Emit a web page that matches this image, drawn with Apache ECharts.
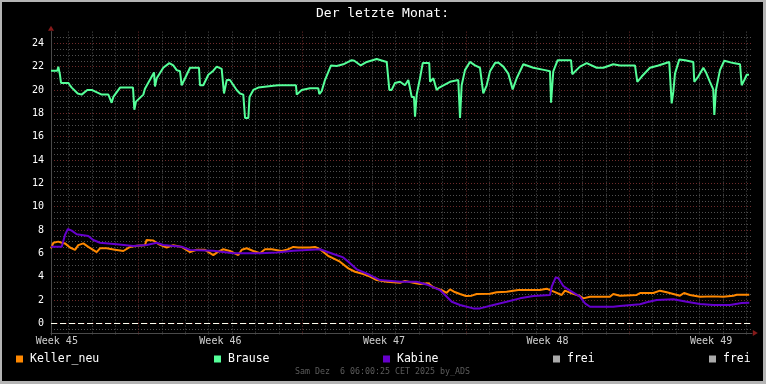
<!DOCTYPE html>
<html><head><meta charset="utf-8">
<script src="https://cdn.jsdelivr.net/npm/echarts@6/dist/echarts.min.js"></script>
<style>
html,body{margin:0;padding:0;background:#b4b4b4;width:766px;height:384px;overflow:hidden;}
#c{position:absolute;left:2px;top:2px;width:761px;height:379px;background:#000;}
</style></head><body><div id="c"></div>
<script>
const titleText = 'Der letzte Monat:';
const footerText = 'Sam Dez  6 06:00:25 CET 2025 by_ADS';
const startTime = new Date(2025, 10, 6, 6, 0, 0).getTime();
const spanHours = 720;
const yMin = -1, yMax = 25;
const yTicks = [0, 2, 4, 6, 8, 10, 12, 14, 16, 18, 20, 22, 24];
const weekLabels = ['Week 45', 'Week 46', 'Week 47', 'Week 48', 'Week 49'];
const weekLabelHours = [6, 174, 342, 510, 678];
const zeroRule = 0;

const kellerHours = [0,2.4,7.5,11,14.4,19.5,24.7,28,33.2,38.3,46.9,50.3,57.2,65.7,74.3,81.2,88,96.5,98.2,105.1,110.2,118.8,125.6,134.2,142.8,149.6,158.2,166.7,171.8,177,183.8,192.4,195.9,201,207.8,214.7,219.8,226.7,237,242.1,248.9,254,266,271.2,276.3,284.8,290,296.8,305.4,312.2,320.8,327.6,334.5,344.8,358.5,363.6,372.1,379,387.5,392.7,401.3,406.4,409.8,413.9,420.1,426.2,432.1,437.2,450.9,457.8,468,480,502.2,509.1,512.5,517.7,524.5,527.9,534.8,543.3,546.7,553.6,574.1,574.9,577.5,584.4,601.6,605,618.6,625.5,632.4,646,650.2,656.3,666.6,680.2,690.5,700.8,704.3,717.2];
const kellerValues = [6.43,6.9,7.0,6.9,6.85,6.5,6.3,6.7,6.85,6.55,6.1,6.43,6.43,6.3,6.2,6.55,6.65,6.7,7.15,7.1,6.8,6.5,6.7,6.55,6.1,6.3,6.3,5.85,6.15,6.35,6.2,5.85,6.3,6.43,6.2,6.0,6.35,6.35,6.2,6.3,6.55,6.5,6.5,6.55,6.35,5.77,5.57,5.28,4.71,4.42,4.22,4.0,3.71,3.57,3.48,3.64,3.48,3.37,3.43,3.09,2.85,2.62,2.91,2.71,2.51,2.34,2.37,2.51,2.54,2.66,2.71,2.85,2.85,2.97,2.85,2.68,2.43,2.8,2.57,2.34,2.14,2.28,2.28,2.11,2.51,2.37,2.43,2.6,2.6,2.8,2.66,2.37,2.6,2.43,2.28,2.31,2.28,2.37,2.45,2.45];

const brauseHours = [0,6.5,7.5,9.2,10.3,17.8,19.5,21.3,27.4,31.5,37.3,41.8,52.1,58.9,62.3,64,70.9,84.2,85.6,87.3,94.8,96.5,105.8,106.8,108.6,115.3,121.5,125.6,129.1,132.5,134.2,139.4,142.8,152,153,156.4,161.6,166.7,170.2,175.3,177.7,180.5,183.8,190.7,194.1,197.5,199.3,202.7,203.9,207.8,212.9,228.3,233.5,251.6,252.4,257.5,266,274.5,275.6,278,281.4,287.6,293.4,300.2,308.8,311.5,318.1,324.3,334.5,344.8,347.5,349.9,353.3,358.5,363.6,367,370.5,372.8,373.9,375.6,379,381.8,388.5,389.3,392.7,396.1,398.8,409.8,418.3,420.1,421.8,425.2,430.3,435.5,440.6,444,447.5,450.9,456,459.4,464.6,469.7,474.2,478.3,485.1,495.4,507.4,512.5,513.6,515.9,520.4,534.1,535.4,543.3,550.2,560.5,567.3,577.5,584.4,599.8,602.2,606.7,615.2,623.8,635,637.5,639.2,640.9,645.3,651.2,659.7,660.7,664.8,670,672.7,676.8,680.2,681.3,683,687.1,691.5,700.8,707.7,709.4,712.1,714.6,716.9];
const brauseValues = [21.65,21.65,22.0,21.3,20.6,20.6,20.4,20.2,19.7,19.6,20.0,20.0,19.6,19.6,18.9,19.4,20.2,20.2,18.3,19.0,19.6,20.1,21.5,20.3,21.0,21.9,22.3,22.1,21.7,21.6,20.4,21.3,21.9,21.9,20.4,20.4,21.3,21.65,22.0,21.8,19.7,20.85,20.85,20.0,19.7,19.6,17.6,17.6,19.4,20.0,20.2,20.35,20.4,20.4,19.6,20.0,20.15,20.15,19.65,19.9,20.85,22.1,22.05,22.2,22.55,22.5,22.1,22.4,22.65,22.4,20.0,20.0,20.6,20.7,20.4,20.85,19.4,19.4,17.7,19.6,21.0,22.3,22.3,20.7,21.0,20.0,20.2,20.7,20.85,17.6,20.4,21.7,22.4,22.1,21.9,19.7,20.4,21.6,22.3,22.35,22.0,21.4,20.05,21.0,22.2,21.9,21.7,21.6,18.9,21.6,22.55,22.55,21.35,22.0,22.3,21.9,21.9,22.2,22.1,22.1,20.7,21.15,21.9,22.1,22.4,18.85,19.85,21.4,22.6,22.55,22.4,20.7,21.15,21.9,21.5,20.7,20.05,17.85,20.0,21.7,22.5,22.3,22.2,20.4,20.85,21.3,21.3];

const kabineHours = [0,11,14.4,17.2,21.3,26.4,38.3,43.4,50.3,67.5,84.5,98.3,108.6,115.3,134.2,142.8,166.7,187.2,214.7,231.8,248.9,276.3,290,300.2,305.4,314,327.6,337.9,358.5,375.6,387.5,399.5,404.7,411.6,420.1,433.7,440.6,454.3,468,481.7,495.4,512.5,514.3,518.4,521.1,526.2,533.1,543.3,548.5,553.6,577.5,584.4,605,611.9,622.2,639.2,652.9,666.6,680.2,697.4,709.4,717.2];
const kabineValues = [6.57,6.57,7.57,8.08,7.94,7.63,7.48,7.14,6.91,6.77,6.63,6.71,6.91,6.71,6.57,6.28,6.22,6.0,6.0,6.08,6.22,6.35,5.94,5.65,5.28,4.63,4.14,3.71,3.57,3.57,3.28,2.85,2.43,1.85,1.57,1.28,1.28,1.57,1.85,2.14,2.34,2.43,3.14,3.94,3.86,3.2,2.8,2.28,1.71,1.42,1.42,1.48,1.63,1.8,2.0,2.06,1.85,1.65,1.57,1.57,1.74,1.77];

const seriesNames = ['Keller_neu', 'Brause', 'Kabine', 'frei', 'frei '];
const seriesColors = ['#ff8800', '#55ff99', '#6600cc', '#aaaaaa', '#aaaaaa'];

const H = 3600 * 1000;
const toPts = (hs, vs) => hs.map((h, i) => [startTime + h * H, vs[i]]);
const FONT = 'DejaVu Sans Mono';
const minorC = '#505050', majorC = '#6e2a2a';

const chart = echarts.init(document.getElementById('c'), null, {renderer: 'canvas'});

const lineSeries = (name, color, hs, vs, extra) => Object.assign({
  name, type: 'line', data: toPts(hs, vs), symbol: 'none', showSymbol: false,
  lineStyle: {width: 2, color}, itemStyle: {color}, silent: true, z: 3
}, extra || {});

const legendLefts = [14, 212, 381, 551, 707];
const legends = seriesNames.map((n, i) => ({
  data: [n], left: legendLefts[i], top: 351, padding: 0, orient: 'horizontal',
  icon: 'rect', itemWidth: 7, itemHeight: 7, selectedMode: false,
  textStyle: {color: '#ffffff', fontFamily: FONT, fontSize: 11.5, padding: [0, 0, 0, 2]}
}));

chart.setOption({
  animation: false,
  backgroundColor: '#000',
  color: seriesColors,
  title: [
    {text: titleText, left: 'center', top: 5, padding: 0,
     textStyle: {color: '#ffffff', fontFamily: FONT, fontSize: 13, fontWeight: 'normal'}},
    {text: footerText, left: 'center', top: 366, padding: 0,
     textStyle: {color: '#5c5c5c', fontFamily: FONT, fontSize: 8.3, fontWeight: 'normal'}}
  ],
  legend: legends,
  grid: {left: 49, right: 11, top: 29.6, bottom: 46, containLabel: false},
  xAxis: {
    type: 'time', min: startTime, max: startTime + spanHours * H,
    minInterval: 24 * H, maxInterval: 24 * H, splitNumber: 30,
    axisLine: {show: true, onZero: false, lineStyle: {color: '#4a4a4a', width: 1}},
    offset: -2,
    axisTick: {show: false}, axisLabel: {show: false},
    splitLine: {show: true, showMinLine: true, showMaxLine: false,
      lineStyle: {color: [minorC, minorC, minorC, minorC, majorC, minorC, minorC], type: [1, 2], width: 1}}
  },
  yAxis: {
    type: 'value', min: yMin, max: yMax, interval: 0.5,
    axisLine: {show: true, lineStyle: {color: '#4a4a4a', width: 1}},
    axisTick: {show: false},
    axisLabel: {show: true, color: '#ffffff', fontFamily: FONT, fontSize: 10, margin: 7,
      formatter: v => (yTicks.indexOf(v) >= 0 ? String(v) : '')},
    splitLine: {show: true, showMinLine: false, showMaxLine: false,
      lineStyle: {color: [minorC, majorC, minorC, minorC], type: [1, 2], width: 1}}
  },
  series: [
    lineSeries(seriesNames[0], seriesColors[0], kellerHours, kellerValues, {
      markLine: {silent: true, symbol: 'none', label: {show: false},
        lineStyle: {color: '#fffff0', type: [6, 3], width: 1},
        data: [{yAxis: zeroRule}]}
    }),
    lineSeries(seriesNames[1], seriesColors[1], brauseHours, brauseValues),
    lineSeries(seriesNames[2], seriesColors[2], kabineHours, kabineValues),
    {name: seriesNames[3], type: 'line', data: [], itemStyle: {color: seriesColors[3]}},
    {name: seriesNames[4], type: 'line', data: [], itemStyle: {color: seriesColors[4]}},
    {type: 'scatter', silent: true, clip: false, symbolSize: 1,
     itemStyle: {color: 'rgba(0,0,0,0)'},
     data: weekLabelHours.map(h => [startTime + h * H, -1.56]),
     label: {show: true, position: 'inside', color: '#ffffff', fontFamily: FONT, fontSize: 10,
       formatter: p => weekLabels[p.dataIndex]}},
    {type: 'scatter', silent: true, clip: false, symbol: 'triangle', symbolSize: [6, 5],
     itemStyle: {color: '#a82020'},
     data: [[startTime, 25.29]]},
    {type: 'scatter', silent: true, clip: false, symbol: 'triangle', symbolSize: [6, 5],
     symbolRotate: -90, itemStyle: {color: '#a82020'},
     data: [[startTime + (spanHours + 3.4) * H, -0.83]]}
  ]
});
</script></body></html>
